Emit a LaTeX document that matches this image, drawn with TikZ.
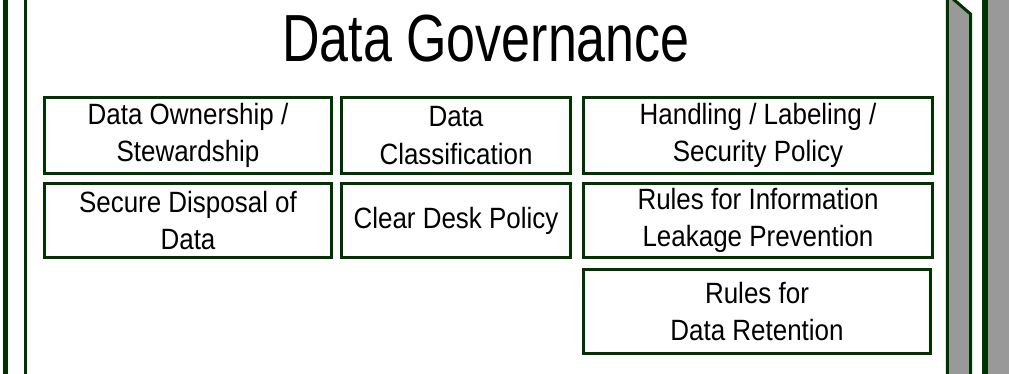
\documentclass[tikz,border=0pt]{standalone}
\usepackage{fontspec}
\setmainfont{Liberation Sans}
\newfontfamily\govfont[FakeStretch=0.885]{Liberation Sans}
\newfontfamily\govtitlefont[FakeStretch=0.78]{Liberation Sans}
\definecolor{govgreen}{RGB}{0,51,0}
\definecolor{sidegray}{RGB}{153,153,153}
\tikzset{
	govbox/.style={draw=govgreen, line width=2.25pt, align=center, inner sep=0pt, font=\govfont\fontsize{22}{28}\selectfont},
	govedge/.style={draw=govgreen, line width=2.25pt},
}

\begin{document}
\begin{tikzpicture}[x=0.75pt,y=0.75pt,yscale=-1,xscale=1]
	\useasboundingbox (0,0) rectangle (1009,374);
	\clip (0,0) rectangle (1009,374);
	\draw [govedge, line width=3.75pt] (5.8,-10) -- (5.8,390);
	\draw [govedge, line width=2.25pt] (25,-10) -- (25,390);
	\draw [govedge, fill=sidegray] (947.3,-6) -- (970.5,14) -- (970.5,390) -- (947.3,390) -- cycle;
	\draw [govedge, line width=4.25pt, fill=sidegray] (985,-10) rectangle (1030,390);

	\node (title) at (486,62) [anchor=base, font=\govtitlefont\fontsize{50}{50}\selectfont] {Data Governance};

	\node (owner) at (188,135.5) [govbox, minimum width=215.25pt, minimum height=57pt] {Data Ownership /\\Stewardship};
	\node (classif) at (456,135.5) [govbox, minimum width=171.75pt, minimum height=57pt] {Data\\Classification};
	\node (handling) at (758,135.5) [govbox, minimum width=261.75pt, minimum height=57pt] {Handling / Labeling /\\Security Policy};
	\node (disposal) at (188,220.5) [govbox, minimum width=215.25pt, minimum height=55.5pt] {Secure Disposal of\\Data};
	\node (desk) at (456,220.5) [govbox, minimum width=171.75pt, minimum height=55.5pt] {Clear Desk Policy};
	\node (leakage) at (758,220.5) [govbox, minimum width=261.75pt, minimum height=55.5pt] {Rules for Information\\Leakage Prevention};
	\node (retention) at (757,311.5) [govbox, minimum width=260.25pt, minimum height=63pt] {Rules for\\Data Retention};
\end{tikzpicture}
\end{document}
